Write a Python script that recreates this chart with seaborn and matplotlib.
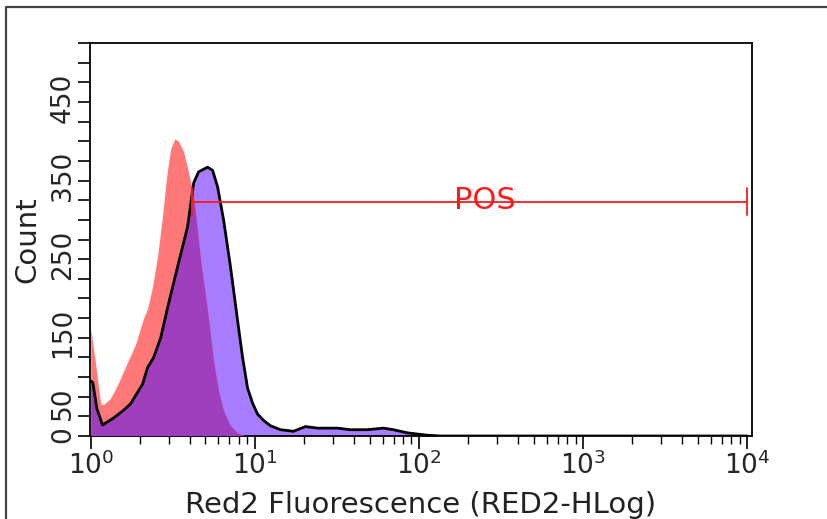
import numpy as np
import pandas as pd
import matplotlib
matplotlib.use("Agg")
import matplotlib.pyplot as plt
import seaborn as sns
from matplotlib.patches import PathPatch
from matplotlib.lines import Line2D
from matplotlib.ticker import LogLocator, LogFormatterMathtext, NullFormatter

# ---------------- data ----------------
red_x = [1.00, 1.07, 1.15, 1.20, 1.32, 1.40, 1.48, 1.66, 1.88, 2.10, 2.22, 2.38, 2.56,
         2.74, 2.90, 3.07, 3.25, 3.43, 3.68, 3.95, 4.24, 4.67, 5.15, 5.61, 6.01,
         6.45, 7.11, 7.85, 8.78, 10000]
red_count = [137, 92, 41, 40, 48, 58, 68, 92, 117, 150, 162, 190, 230,
             280, 330, 365, 378, 375, 362, 335, 305, 225, 160, 95, 58,
             32, 13, 4, 0, 0]

purple_x = [1.00, 1.03, 1.09, 1.18, 1.38, 1.57, 1.75, 2.07, 2.22, 2.42, 2.67, 2.94,
            3.38, 3.89, 4.24, 4.54, 5.15, 5.53, 5.93, 6.45, 7.11, 7.85, 8.42, 9.03,
            9.68, 10.38, 11.29, 12.46, 14.33, 17.20, 20.35, 24.07, 31.87, 38.23,
            48.53, 60.72, 69.86, 85.0, 97.8, 112.5, 135, 10000]
purple_count = [70, 68, 35, 14, 23, 32, 41, 66, 87, 100, 125, 163,
                215, 266, 322, 336, 342, 338, 317, 275, 215, 147, 100, 61,
                42, 28, 20, 13, 8, 6, 12, 10, 10, 8,
                8, 10, 8, 4, 2.5, 1, 0, 0]

gate_name = "POS"
gate_start = 4.12
gate_end = 10000
gate_level = 298

ytick_values = list(range(0, 501, 25))
ytick_label_values = [0, 50, 150, 250, 350, 450]

x_label = "Red2 Fluorescence (RED2-HLog)"
y_label = "Count"

# ---------------- styling ----------------
RED = "#FF7878"
PURPLE = "#A87CFF"
OVERLAP = "#A03FBE"
GATE = "#FF1A1A"

sns.set_theme(style="white")
plt.rcParams["font.family"] = ["DejaVu Sans"]

fig = plt.figure(figsize=(8.28, 5.19), dpi=100)
W, H = 828, 519
ax = fig.add_axes([90 / W, 1 - 436 / H, (752 - 90) / W, (436 - 43) / H])
ax.set_xscale("log")

df_red = pd.DataFrame({"x": red_x, "count": red_count})
df_pur = pd.DataFrame({"x": purple_x, "count": purple_count})

# purple fill
pur_coll = ax.fill_between(df_pur["x"], 0, df_pur["count"], color=PURPLE, lw=0, zorder=1)
# red fill
ax.fill_between(df_red["x"], 0, df_red["count"], color=RED, lw=0, zorder=2)
# overlap: red area clipped to purple area
ov = ax.fill_between(df_red["x"], 0, df_red["count"], color=OVERLAP, lw=0, zorder=3)
clip_patch = PathPatch(pur_coll.get_paths()[0], transform=ax.transData,
                       facecolor="none", edgecolor="none")
ax.add_patch(clip_patch)
ov.set_clip_path(clip_patch)

# purple outline
sns.lineplot(data=df_pur, x="x", y="count", ax=ax, color="black", lw=2.0,
             sort=False, estimator=None, zorder=4)

# gate
ax.plot([gate_start, gate_end], [gate_level, gate_level], color=GATE, lw=1.3, zorder=5)
for gx in (gate_start, gate_end):
    ax.plot([gx, gx], [gate_level - 17, gate_level + 17], color=GATE, lw=1.3, zorder=5)
ax.text(np.sqrt(gate_start * gate_end) * 1.25, gate_level + 2, gate_name,
        color=GATE, fontsize=22, ha="center", va="center", zorder=6)

ax.set_xlim(0.99, 10700)
ax.set_ylim(0, 500)

# ticks
ax.xaxis.set_major_locator(LogLocator(base=10, numticks=10))
ax.xaxis.set_major_formatter(LogFormatterMathtext())
ax.xaxis.set_minor_locator(LogLocator(base=10, subs=np.arange(2, 10), numticks=100))
ax.xaxis.set_minor_formatter(NullFormatter())
ax.set_yticks(ytick_values,
              labels=[str(v) if v in ytick_label_values else "" for v in ytick_values])

ax.tick_params(axis="x", which="major", direction="out", length=9, width=1.2,
               color="black", labelsize=19, pad=2, bottom=True)
ax.tick_params(axis="x", which="minor", direction="out", length=6, width=1.0,
               color="black", bottom=True)
ax.tick_params(axis="y", which="major", direction="out", length=9, width=1.2,
               color="black", labelsize=19, pad=1, left=True, labelrotation=90)

for s in ax.spines.values():
    s.set_visible(True)
    s.set_color("black")
    s.set_linewidth(1.3)

ax.set_xlabel(x_label, fontsize=21, labelpad=8, color="#222222")
ax.set_ylabel(y_label, fontsize=21, labelpad=6, color="#222222")

# outer frame (left and top edges visible)
fig.add_artist(Line2D([6 / W, 6 / W, 1.01], [-0.01, 1 - 7 / H, 1 - 7 / H],
                      transform=fig.transFigure, color="#444444", lw=1.6))

fig.savefig("out.png", dpi=100)
